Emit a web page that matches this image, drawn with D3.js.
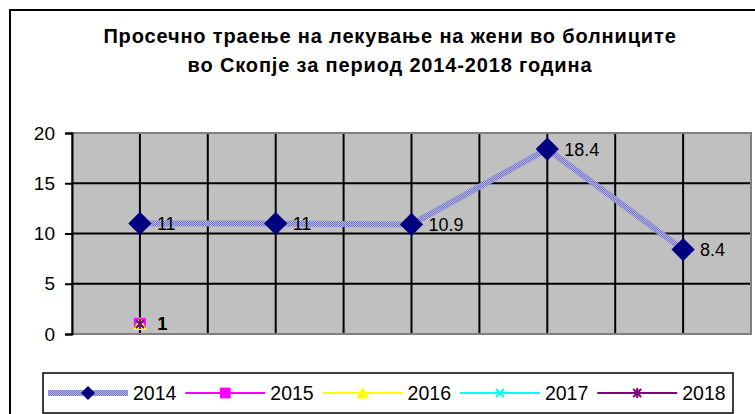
<!DOCTYPE html>
<html>
<head>
<meta charset="utf-8">
<script src="https://cdn.jsdelivr.net/npm/d3@7"></script>
<style>
  body { margin: 0; background: #fff; }
  svg { display: block; font-family: Arial, "Liberation Sans", sans-serif; }
</style>
</head>
<body>
<svg id="chart" width="755" height="414"></svg>
<script>
let titleLines = ["Просечно траење на лекување на жени во болниците", "во Скопје за период 2014-2018 година"];
let categories = ["1", "2", "3", "4", "5"];
let yTicks = [0, 5, 10, 15, 20];
let seriesNames = ["2014", "2015", "2016", "2017", "2018"];
let values2014 = [11, 11, 10.9, 18.4, 8.4];
let values2015 = [1, null, null, null, null];
let values2016 = [1, null, null, null, null];
let values2017 = [1, null, null, null, null];
let values2018 = [1, null, null, null, null];

let svg = d3.select("#chart");
let plot = { left: 72, right: 751, top: 133, bottom: 334 };

// checker pattern for the thick 2014 line
let defs = svg.append("defs");
let pat = defs.append("pattern")
  .attr("id", "checker")
  .attr("patternUnits", "userSpaceOnUse")
  .attr("width", 2).attr("height", 2);
pat.append("rect").attr("width", 2).attr("height", 2).attr("fill", "#b4b4e8");
pat.append("rect").attr("width", 1).attr("height", 1).attr("fill", "#7474c4");
pat.append("rect").attr("x", 1).attr("y", 1).attr("width", 1).attr("height", 1).attr("fill", "#7474c4");

// outer frame
svg.append("rect")
  .attr("x", 10).attr("y", 10)
  .attr("width", 760).attr("height", 420)
  .attr("fill", "none").attr("stroke", "#000").attr("stroke-width", 2);

let title = svg.append("text")
  .attr("text-anchor", "middle")
  .attr("font-weight", "bold")
  .attr("font-size", 20)
  .attr("letter-spacing", 0.85);
title.selectAll("tspan")
  .data(titleLines)
  .enter()
  .append("tspan")
  .attr("x", 390)
  .attr("y", (d, i) => 43 + i * 29)
  .text(d => d);

let x = d3.scaleBand().domain(categories).range([plot.left, plot.right]);
let y = d3.scaleLinear().domain([0, 20]).range([plot.bottom, plot.top]);
let cx = d => x(d) + x.bandwidth() / 2;

svg.append("rect")
  .attr("x", plot.left).attr("y", plot.top)
  .attr("width", plot.right - plot.left).attr("height", plot.bottom - plot.top)
  .attr("fill", "#c0c0c0");

// grid: horizontal at y ticks, vertical at category centres and boundaries
svg.append("g").selectAll("line")
  .data(yTicks.slice(1, -1))
  .enter().append("line")
  .attr("x1", plot.left).attr("x2", plot.right)
  .attr("y1", d => y(d)).attr("y2", d => y(d))
  .attr("stroke", "#000").attr("stroke-width", 2);

let vLines = [];
categories.forEach((c, i) => {
  if (i > 0) vLines.push(x(c));
  vLines.push(cx(c));
});
svg.append("g").selectAll("line")
  .data(vLines)
  .enter().append("line")
  .attr("x1", d => d).attr("x2", d => d)
  .attr("y1", plot.top).attr("y2", plot.bottom)
  .attr("stroke", "#000").attr("stroke-width", 2);

// plot border
svg.append("rect")
  .attr("x", plot.left).attr("y", plot.top)
  .attr("width", plot.right - plot.left).attr("height", plot.bottom - plot.top)
  .attr("fill", "none").attr("stroke", "#808080").attr("stroke-width", 2);

// y axis
let yAxis = d3.axisLeft(y).tickValues(yTicks).tickSize(7).tickPadding(10);
let ya = svg.append("g")
  .attr("transform", "translate(" + plot.left + ",0)")
  .call(yAxis);
ya.select(".domain").attr("stroke", "#000").attr("stroke-width", 2);
ya.selectAll(".tick line").attr("stroke", "#000").attr("stroke-width", 2);
ya.selectAll(".tick text")
  .attr("font-size", 19)
  .attr("font-family", "Arial, 'Liberation Sans', sans-serif")
  .attr("fill", "#000");

// series
let line = d3.line()
  .defined(d => d.v != null)
  .x(d => cx(d.c))
  .y(d => y(d.v));

let pts2014 = categories.map((c, i) => ({ c: c, v: values2014[i] }));
svg.append("path")
  .datum(pts2014)
  .attr("d", line)
  .attr("fill", "none")
  .attr("stroke", "url(#checker)")
  .attr("stroke-width", 6);

let others = [
  { name: "2015", values: values2015, color: "#ff00ff" },
  { name: "2016", values: values2016, color: "#ffff00" },
  { name: "2017", values: values2017, color: "#00ffff" },
  { name: "2018", values: values2018, color: "#800080" }
];

let drawMarker = (g, name, px, py, scale) => {
  let s = scale || 1;
  if (name === "2014") {
    g.append("path")
      .attr("d", d3.symbol().type(d3.symbolSquare).size(270 * s * s)())
      .attr("transform", "translate(" + px + "," + py + ") rotate(45)")
      .attr("fill", "#000080");
  } else if (name === "2015") {
    g.append("rect")
      .attr("x", px - 6 * s).attr("y", py - 6 * s)
      .attr("width", 12 * s).attr("height", 12 * s)
      .attr("fill", "#ff00ff");
  } else if (name === "2016") {
    g.append("path")
      .attr("d", "M" + px + "," + (py - 7 * s) + "L" + (px + 7 * s) + "," + (py + 6 * s) + "L" + (px - 7 * s) + "," + (py + 6 * s) + "Z")
      .attr("fill", "#ffff00");
  } else if (name === "2017") {
    g.append("path")
      .attr("d", "M" + (px - 4) + "," + (py - 4) + "L" + (px + 4) + "," + (py + 4) + "M" + (px + 4) + "," + (py - 4) + "L" + (px - 4) + "," + (py + 4))
      .attr("stroke", "#00ffff").attr("stroke-width", 2);
  } else {
    g.append("path")
      .attr("d", "M" + (px - 4) + "," + (py - 4) + "L" + (px + 4) + "," + (py + 4) + "M" + (px + 4) + "," + (py - 4) + "L" + (px - 4) + "," + (py + 4) + "M" + px + "," + (py - 5) + "L" + px + "," + (py + 5))
      .attr("stroke", "#800080").attr("stroke-width", 2);
  }
};

let marks = svg.append("g");
others.forEach(s => {
  let pts = categories.map((c, i) => ({ c: c, v: s.values[i] }));
  marks.append("path")
    .datum(pts)
    .attr("d", line)
    .attr("fill", "none")
    .attr("stroke", s.color)
    .attr("stroke-width", 2);
  pts.filter(p => p.v != null).forEach(p => drawMarker(marks, s.name, cx(p.c), y(p.v)));
});
pts2014.forEach(p => drawMarker(marks, "2014", cx(p.c), y(p.v)));

// data labels
let labels = svg.append("g")
  .attr("font-size", 18)
  .attr("fill", "#000");
pts2014.forEach(p => {
  labels.append("text")
    .attr("x", cx(p.c) + 17)
    .attr("y", y(p.v))
    .attr("dy", "0.36em")
    .text(p.v);
});
others.forEach((s, k) => {
  categories.forEach((c, i) => {
    if (s.values[i] == null) return;
    labels.append("text")
      .attr("x", cx(c) + 17 + k * 0.3)
      .attr("y", y(s.values[i]))
      .attr("dy", "0.36em")
      .text(s.values[i]);
  });
});

// legend
let legend = svg.append("g");
legend.append("rect")
  .attr("x", 43).attr("y", 373)
  .attr("width", 690).attr("height", 40)
  .attr("fill", "#fff").attr("stroke", "#000").attr("stroke-width", 1.5);

let legendColors = ["url(#checker)", "#ff00ff", "#ffff00", "#00ffff", "#800080"];
seriesNames.forEach((name, i) => {
  let lx = 48 + i * 137.3;
  let ly = 393;
  legend.append("line")
    .attr("x1", lx).attr("x2", lx + 80)
    .attr("y1", ly).attr("y2", ly)
    .attr("stroke", legendColors[i])
    .attr("stroke-width", i === 0 ? 6 : 2);
  drawMarker(legend, name, lx + 40, ly, i === 0 ? 0.6 : 0.9);
  legend.append("text")
    .attr("x", lx + 85)
    .attr("y", ly)
    .attr("dy", "0.36em")
    .attr("font-size", 19.5)
    .text(name);
});
</script>
</body>
</html>
